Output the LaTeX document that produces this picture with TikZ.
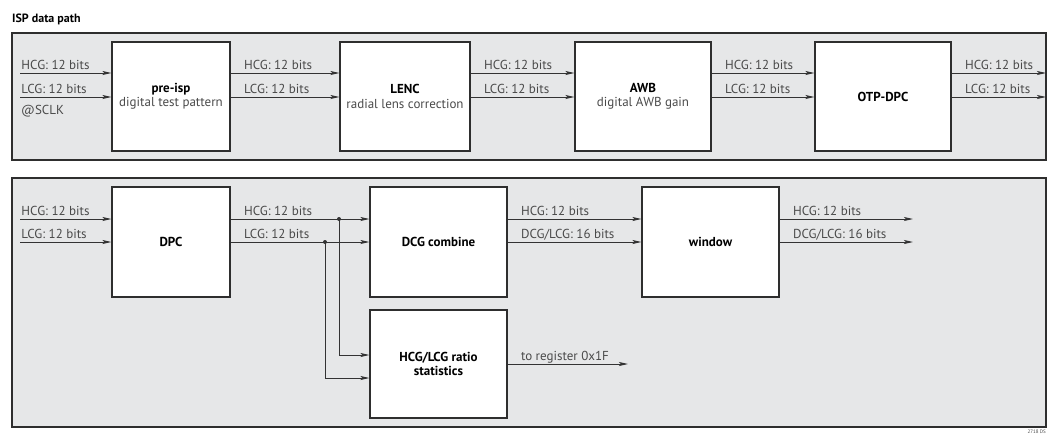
\documentclass[tikz,border=0pt]{standalone}
\usepackage{fontspec}
\setmainfont{PT Sans}
\usetikzlibrary{arrows.meta}
\definecolor{panelgray}{HTML}{E6E7E8}
\definecolor{edgegray}{HTML}{2E2E2E}
\definecolor{wiregray}{HTML}{333333}
\definecolor{textgray}{HTML}{4A4A4A}

\begin{document}
\begin{tikzpicture}[x=1pt,y=-1pt,
  font=\fontsize{13}{14.5}\selectfont,
  panel/.style={draw=edgegray,fill=panelgray,line width=1.2pt},
  block/.style={draw=edgegray,fill=white,line width=1.2pt,align=center,
    inner sep=0pt,minimum height=109pt,text=textgray},
  sig/.style={draw=wiregray,line width=0.9pt,
    -{Stealth[length=9pt,width=4pt,inset=2pt]}},
  bits/.style={text=textgray,anchor=base west,inner sep=0pt,
    xshift=#1,yshift=3.5pt},
  bits/.default=13pt]
  \useasboundingbox (0,0) rectangle (1048,434);

  % title and the two frames
  \node[anchor=base west,inner sep=0pt,font=\fontsize{12}{13}\bfseries\selectfont]
    (title) at (12,22) {ISP data path};
  \draw[panel] (12,33) rectangle (1046,160);
  \draw[panel] (12,178) rectangle (1046,427);

  % upper row
  \coordinate (h1) at (0,73);
  \coordinate (l1) at (0,97);
  \node[block,minimum width=118pt] (preisp) at (171,96.5)
    {\textbf{\color{black}pre-isp}\\digital test pattern};
  \node[block,minimum width=130pt] (lenc) at (405,96.5)
    {\textbf{\color{black}LENC}\\radial lens correction};
  \node[block,minimum width=136pt] (awb) at (643,96.5)
    {\textbf{\color{black}AWB}\\digital AWB gain};
  \node[block,minimum width=136pt] (otp) at (883,96.5)
    {\textbf{\color{black}OTP-DPC}};
  \coordinate (inH) at (20,73);
  \coordinate (inL) at (20,97);
  \coordinate (outH) at (1046,73);
  \coordinate (outL) at (1046,97);

  \draw[sig] (inH) -- node[bits=1pt,pos=0] {HCG: 12 bits} (preisp.west |- h1);
  \draw[sig] (inL) -- node[bits=1pt,pos=0] {LCG: 12 bits} (preisp.west |- l1);
  \node[text=textgray,anchor=base west,inner sep=0pt] (sclk) at (21,114) {@SCLK};
  \draw[sig] (preisp.east |- h1) -- node[bits,pos=0] {HCG: 12 bits} (lenc.west |- h1);
  \draw[sig] (preisp.east |- l1) -- node[bits,pos=0] {LCG: 12 bits} (lenc.west |- l1);
  \draw[sig] (lenc.east |- h1) -- node[bits,pos=0] {HCG: 12 bits} (awb.west |- h1);
  \draw[sig] (lenc.east |- l1) -- node[bits,pos=0] {LCG: 12 bits} (awb.west |- l1);
  \draw[sig] (awb.east |- h1) -- node[bits,pos=0] {HCG: 12 bits} (otp.west |- h1);
  \draw[sig] (awb.east |- l1) -- node[bits,pos=0] {LCG: 12 bits} (otp.west |- l1);
  \draw[sig] (otp.east |- h1) -- node[bits,pos=0] {HCG: 12 bits} (outH);
  \draw[sig] (otp.east |- l1) -- node[bits,pos=0] {LCG: 12 bits} (outL);

  % lower row
  \coordinate (h2) at (0,219);
  \coordinate (l2) at (0,242);
  \node[block,minimum width=118pt,minimum height=110pt] (dpc) at (171,242)
    {\textbf{\color{black}DPC}};
  \node[block,minimum width=137pt,minimum height=110pt] (dcg) at (438.5,242)
    {\textbf{\color{black}DCG combine}};
  \node[block,minimum width=137pt,minimum height=110pt] (window) at (710.5,242)
    {\textbf{\color{black}window}};
  \node[block,minimum width=137pt,minimum height=108pt] (stats) at (438.5,364)
    {\textbf{\color{black}HCG/LCG ratio}\\\textbf{\color{black}statistics}};
  \coordinate (in2H) at (20,219);
  \coordinate (in2L) at (20,242);
  \coordinate (tapH) at (339,219);
  \coordinate (tapL) at (325,242);
  \coordinate (sH) at (0,355);
  \coordinate (sL) at (0,378);
  \coordinate (win2H) at (913,219);
  \coordinate (win2L) at (913,242);
  \coordinate (reg) at (628,364);

  \draw[sig] (in2H) -- node[bits=1pt,pos=0] {HCG: 12 bits} (dpc.west |- h2);
  \draw[sig] (in2L) -- node[bits=1pt,pos=0] {LCG: 12 bits} (dpc.west |- l2);
  \draw[sig] (dpc.east |- h2) -- node[bits,pos=0] {HCG: 12 bits} (dcg.west |- h2);
  \draw[sig] (dpc.east |- l2) -- node[bits,pos=0] {LCG: 12 bits} (dcg.west |- l2);
  \fill[wiregray] (tapH) circle (2pt);
  \fill[wiregray] (tapL) circle (2pt);
  \draw[sig] (tapH) |- (stats.west |- sH);
  \draw[sig] (tapL) |- (stats.west |- sL);
  \draw[sig] (dcg.east |- h2) -- node[bits,pos=0] {HCG: 12 bits} (window.west |- h2);
  \draw[sig] (dcg.east |- l2) -- node[bits,pos=0] {DCG/LCG: 16 bits} (window.west |- l2);
  \draw[sig] (window.east |- h2) -- node[bits,pos=0] {HCG: 12 bits} (win2H);
  \draw[sig] (window.east |- l2) -- node[bits,pos=0] {DCG/LCG: 16 bits} (win2L);
  \draw[sig] (stats.east) -- node[bits,pos=0] {to register 0x1F} (reg);

  \node[text=textgray,anchor=north east,inner sep=0pt,font=\fontsize{5}{6}\selectfont]
    (docid) at (1046,430) {2718 DS};
\end{tikzpicture}
\end{document}
